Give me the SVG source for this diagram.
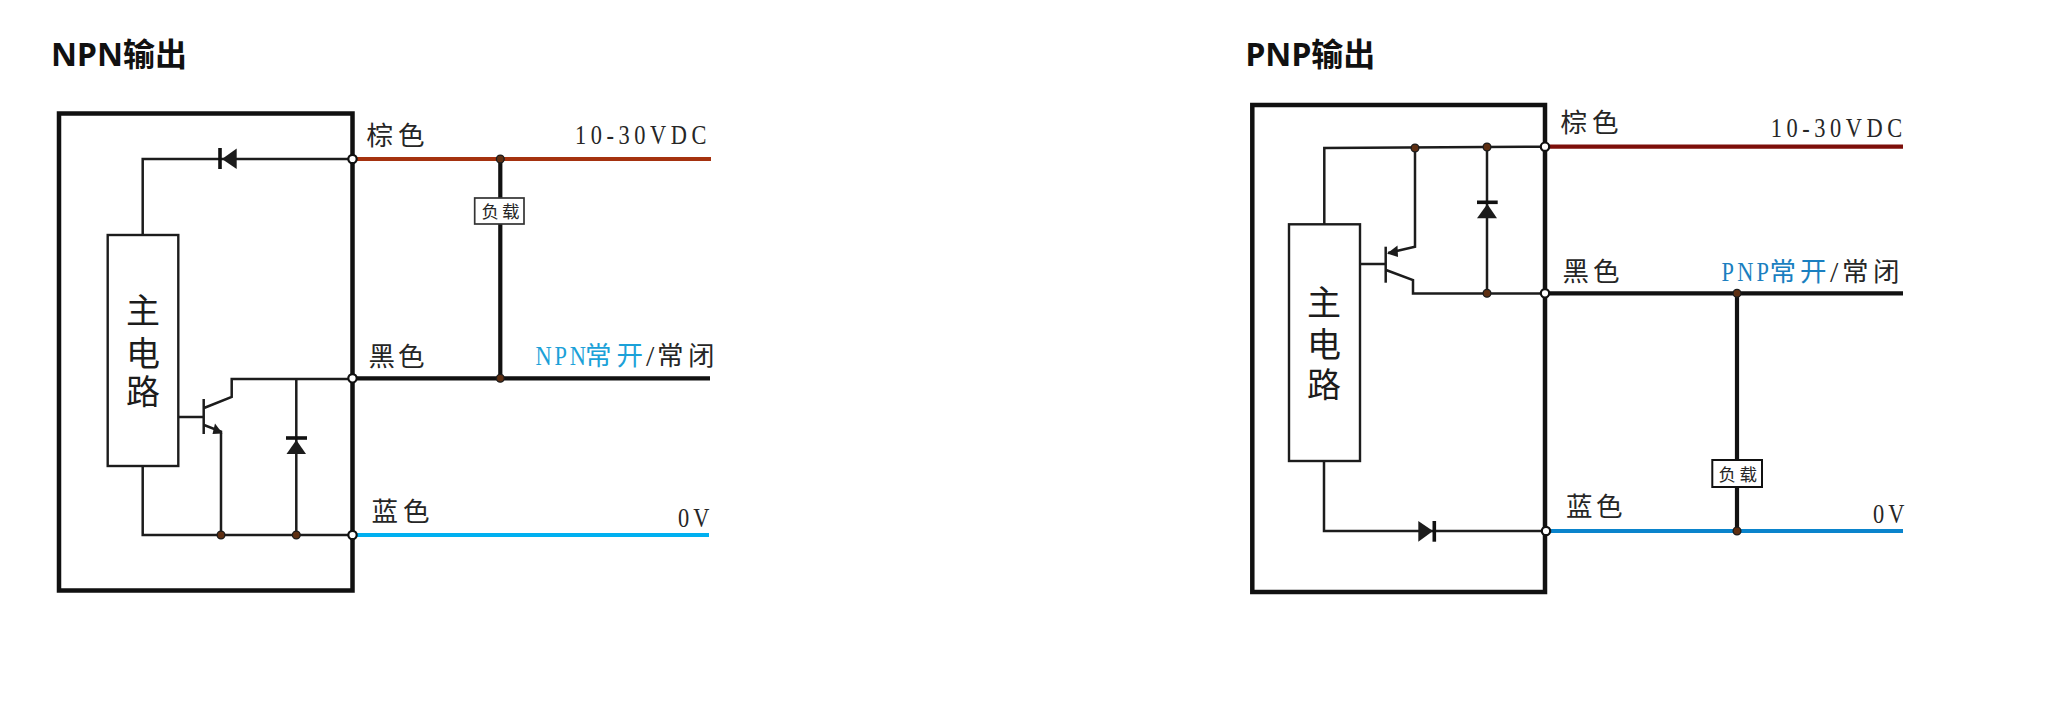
<svg xmlns="http://www.w3.org/2000/svg" width="2068" height="722" viewBox="0 0 2068 722">
<defs><style>
.title{font:bold 32px "Noto Sans","Noto Sans CJK SC",sans-serif;fill:#111}
.cjk{font:26.5px "Noto Sans CJK SC",sans-serif;fill:#262626}
.main{font:34px "Noto Sans CJK SC",sans-serif;text-anchor:middle;fill:#1c1c1c}
.load{font:17.5px "Noto Sans CJK SC",sans-serif;fill:#262626}
.lat{font:28px "Liberation Serif","Noto Sans CJK SC",serif;fill:#262626;letter-spacing:5.7px}
.sym{font:30px "Liberation Serif",serif;fill:#262626}
.body{fill:none;stroke:#111;stroke-width:4.5}
.box{fill:#fff;stroke:#1c1c1c;stroke-width:2.4}
.lbox{fill:#fff;stroke:#333;stroke-width:1.7}
.w{fill:none;stroke:#1c1c1c;stroke-width:2.5}
.hw{fill:none;stroke:#111;stroke-width:4.2}
.f{fill:#1c1c1c}
.bar{fill:none;stroke:#111;stroke-width:3.6}
.term{fill:#fff;stroke:#111;stroke-width:2.2}
.dot{fill:#5e2f12;stroke:#1c1c1c;stroke-width:1.3}
</style></defs>
<rect width="2068" height="722" fill="#fff"/>
<g id="npn-diagram">
<text id="npn-title" class="title" x="51" y="65.5">NPN输出</text>
<g id="npn-body"><rect class="body" x="59" y="113.5" width="293.5" height="477"/></g>
<g id="npn-connectors">
<path class="w" d="M142.7 235V159H352.5M142.7 466V535H352.5"/>
<path class="w" d="M178.3 417H204M204 408L231.7 397V379H352.5M204 425L221 431.5V535M296.3 379V535"/>
<path class="hw" d="M352.5 378.3H710M500.3 159V378.3"/>
<path fill="none" stroke="#a5320f" stroke-width="4.2" d="M356 159H711"/>
<path fill="none" stroke="#00b0f0" stroke-width="4.2" d="M356 535H709"/>
</g>
<g id="npn-main"><rect class="box" x="107.7" y="235" width="70.6" height="231"/>
<text class="main" x="143 143 143" y="322.5 366 404">主电路</text></g>
<g id="npn-transistor"><path class="w" d="M203.7 399V434"/><path class="f" d="M222.5 433.5L212.5 434L215 423.5Z"/></g>
<g id="npn-diode-top"><path class="f" d="M222 159L236.7 148.5V169Z"/><path class="bar" d="M220 148V169"/></g>
<g id="npn-diode-clamp"><path class="f" d="M296.3 440L306 454H286.5Z"/><path class="bar" d="M286 438H307"/></g>
<g id="npn-load"><rect class="lbox" x="474.7" y="198" width="49.3" height="26"/><text class="load" x="481.5 502" y="218">负载</text></g>
<g id="npn-terminals"><circle class="term" cx="352.5" cy="159" r="4.2"/><circle class="term" cx="352.5" cy="378.3" r="4.2"/><circle class="term" cx="352.5" cy="535" r="4.2"/>
<circle class="dot" cx="500.3" cy="159" r="3.9"/><circle class="dot" cx="500.3" cy="378.3" r="3.9"/><circle class="dot" cx="221" cy="535" r="3.9"/><circle class="dot" cx="296.3" cy="535" r="3.9"/></g>
<g id="npn-labels">
<text class="cjk" x="366.5 398" y="144.5">棕色</text>
<text class="lat" transform="translate(575 144) scale(.8 1)">10-30VDC</text>
<text class="cjk" x="368.5 398" y="365.5">黑色</text>
<text class="lat" transform="translate(535.5 365) scale(.8 1)" style="fill:#1ba1d8;letter-spacing:3.5px">NPN</text>
<text class="cjk" x="585 616.5" y="365" style="fill:#1ba1d8">常开</text>
<text class="sym" x="646" y="366">/</text>
<text class="cjk" x="657 688" y="365">常闭</text>
<text class="cjk" x="371.5 403" y="521">蓝色</text>
<text class="lat" transform="translate(678 527) scale(.8 1)" style="letter-spacing:5px">0V</text>
</g>
</g>
<g id="pnp-diagram">
<text id="pnp-title" class="title" x="1245.5" y="65.5">PNP输出</text>
<g id="pnp-body"><rect class="body" x="1252.3" y="105" width="292.7" height="487"/></g>
<g id="pnp-connectors">
<path class="w" d="M1324.3 224.3V148L1545 146.7M1324 461V531H1545"/>
<path class="w" d="M1360 264H1386M1415 148V246.7L1388 253M1386 270L1413 280V293.6H1545M1487 147V293"/>
<path class="hw" d="M1545 293.3H1903M1737 293.3V531"/>
<path fill="none" stroke="#7d0f0a" stroke-width="4.2" d="M1549 146.7H1903"/>
<path fill="none" stroke="#0a84cc" stroke-width="4.2" d="M1550 531H1903"/>
</g>
<g id="pnp-main"><rect class="box" x="1289" y="224.3" width="71" height="236.7"/>
<text class="main" x="1324 1324 1324" y="314.5 357 396.5">主电路</text></g>
<g id="pnp-transistor"><path class="w" d="M1385.7 246.7V282.7"/><path class="f" d="M1387 253.5L1397.5 245.5L1398 257Z"/></g>
<g id="pnp-diode-clamp"><path class="f" d="M1487.3 204L1497 218.3H1477Z"/><path class="bar" d="M1477 202.3H1497.7"/></g>
<g id="pnp-diode-bottom"><path class="f" d="M1433 531L1418.3 521V541.7Z"/><path class="bar" d="M1434.3 521V541.7"/></g>
<g id="pnp-load"><rect class="lbox" x="1712.3" y="460" width="49.7" height="27" style="stroke:#111;stroke-width:2"/><text class="load" x="1718.5 1739.5" y="480.5">负载</text></g>
<g id="pnp-terminals"><circle class="term" cx="1545" cy="146.7" r="4.2"/><circle class="term" cx="1545" cy="293.3" r="4.2"/><circle class="term" cx="1546" cy="531" r="4.2"/>
<circle class="dot" cx="1415" cy="148" r="3.9"/><circle class="dot" cx="1487" cy="147" r="3.9"/><circle class="dot" cx="1487" cy="293.3" r="3.9"/><circle class="dot" cx="1737" cy="293.3" r="3.9"/><circle class="dot" cx="1737" cy="531" r="3.9"/></g>
<g id="pnp-labels">
<text class="cjk" x="1560.5 1592" y="131.5">棕色</text>
<text class="lat" transform="translate(1770.7 137) scale(.8 1)">10-30VDC</text>
<text class="cjk" x="1562.5 1593" y="281">黑色</text>
<text class="lat" transform="translate(1721.5 281) scale(.8 1)" style="fill:#1a7fc0;letter-spacing:4px">PNP</text>
<text class="cjk" x="1769.5 1800" y="281" style="fill:#1a7fc0">常开</text>
<text class="sym" x="1830" y="282">/</text>
<text class="cjk" x="1842 1873" y="281">常闭</text>
<text class="cjk" x="1566 1596" y="516">蓝色</text>
<text class="lat" transform="translate(1873 523) scale(.8 1)" style="letter-spacing:5px">0V</text>
</g>
</g>
</svg>
